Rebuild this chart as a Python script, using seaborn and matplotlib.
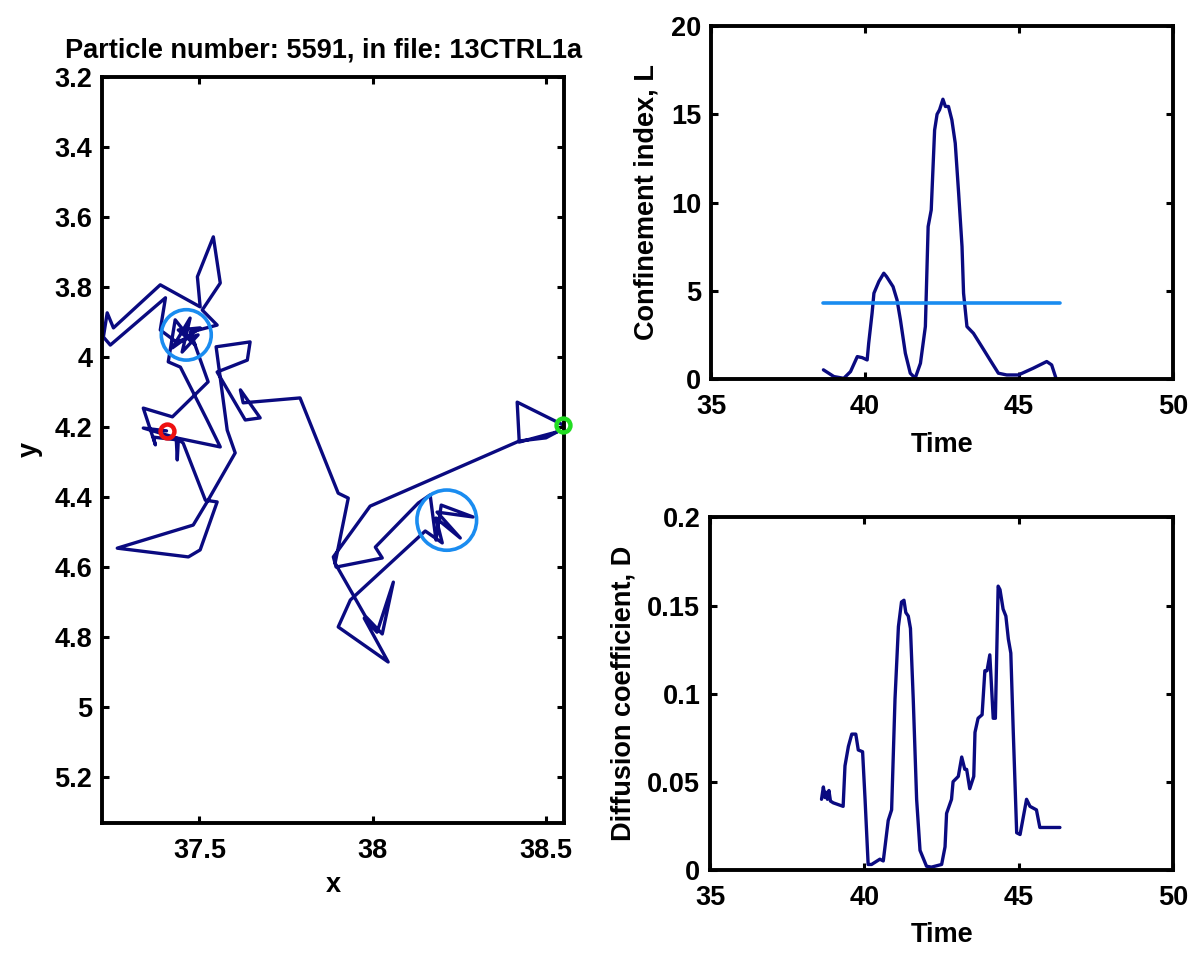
import numpy as np
import seaborn as sns
import matplotlib
matplotlib.use("Agg")
import matplotlib.pyplot as plt
from matplotlib.patches import Circle
from matplotlib.ticker import FuncFormatter

# Particle trajectory, green end first, red end last
traj_x = [38.548, 38.416, 38.422, 38.531, 38.499, 38.422, 37.992, 37.886, 37.894, 38.027,
          38.007, 38.131, 38.165, 38.182, 38.197, 38.289, 38.185, 38.252, 38.182, 38.200,
          38.151, 37.935, 37.900, 38.044, 37.975, 38.012, 38.059, 38.027, 37.978, 37.891,
          37.929, 37.900, 37.790, 37.626, 37.618, 37.675, 37.632, 37.551, 37.638, 37.646,
          37.548, 37.580, 37.603, 37.522, 37.482, 37.263, 37.468, 37.502, 37.551, 37.517,
          37.453, 37.433, 37.560, 37.522, 37.445, 37.410, 37.430, 37.488, 37.439, 37.502,
          37.422, 37.473, 37.450, 37.496, 37.433, 37.387, 37.402, 37.243, 37.223, 37.234,
          37.252, 37.387, 37.502, 37.494, 37.540, 37.560, 37.508, 37.551, 37.474, 37.525,
          37.422, 37.338, 37.373, 37.367, 37.439, 37.436, 37.433, 37.338, 37.405]
traj_y = [4.194, 4.129, 4.243, 4.214, 4.231, 4.240, 4.426, 4.571, 4.600, 4.574,
          4.543, 4.417, 4.394, 4.523, 4.423, 4.457, 4.443, 4.517, 4.460, 4.531,
          4.497, 4.694, 4.771, 4.871, 4.746, 4.786, 4.643, 4.791, 4.740, 4.589,
          4.403, 4.389, 4.117, 4.131, 4.094, 4.174, 4.180, 4.043, 4.009, 3.957,
          3.971, 4.209, 4.274, 4.414, 4.480, 4.546, 4.571, 4.551, 4.414, 4.409,
          4.246, 4.231, 4.257, 4.180, 4.029, 4.014, 3.894, 3.966, 3.923, 3.917,
          3.974, 3.889, 3.986, 3.937, 3.957, 3.923, 3.831, 3.966, 3.943, 3.874,
          3.917, 3.794, 3.857, 3.771, 3.657, 3.789, 3.866, 3.909, 3.929, 4.071,
          4.171, 4.146, 4.251, 4.229, 4.237, 4.294, 4.231, 4.203, 4.211]

# Confined zones (centre and radius)
zone_x = [37.462, 38.213]
zone_y = [3.937, 4.466]
zone_r = [0.072, 0.086]

# Confinement index vs time
conf_t = [38.65, 38.99, 39.31, 39.53, 39.75, 39.91, 40.07, 40.12, 40.23, 40.29,
          40.45, 40.61, 40.70, 40.77, 40.91, 41.04, 41.15, 41.31, 41.47, 41.63,
          41.80, 41.96, 42.05, 42.15, 42.26, 42.34, 42.42, 42.53, 42.61, 42.71,
          42.82, 42.93, 43.04, 43.15, 43.20, 43.31, 43.52, 43.79, 44.06, 44.33,
          44.60, 44.98, 45.46, 45.90, 46.06, 46.20]
conf_L = [0.53, 0.15, 0.05, 0.43, 1.28, 1.22, 1.09, 2.04, 3.74, 4.87,
          5.53, 6.00, 5.81, 5.62, 5.24, 4.49, 3.36, 1.47, 0.34, 0.06,
          0.90, 2.98, 8.64, 9.58, 14.1, 15.0, 15.25, 15.85, 15.44, 15.44,
          14.68, 13.36, 10.53, 7.51, 4.87, 2.98, 2.60, 1.85, 1.09, 0.34,
          0.24, 0.24, 0.62, 1.00, 0.81, 0.06]
thresh_t = [38.65, 46.33]
thresh_L = [4.30, 4.30]

# Diffusion coefficient vs time
diff_t = [38.61, 38.67, 38.72, 38.75, 38.80, 38.85, 38.90, 38.99, 39.31, 39.37,
          39.48, 39.59, 39.72, 39.80, 39.94, 40.02, 40.12, 40.23, 40.50, 40.61,
          40.77, 40.88, 40.99, 41.10, 41.20, 41.28, 41.34, 41.42, 41.49, 41.58,
          41.69, 41.80, 42.01, 42.17, 42.50, 42.61, 42.66, 42.82, 42.87, 43.04,
          43.15, 43.25, 43.31, 43.41, 43.54, 43.58, 43.68, 43.81, 43.90, 43.97,
          44.06, 44.17, 44.24, 44.33, 44.39, 44.49, 44.58, 44.66, 44.74, 44.82,
          44.93, 45.04, 45.25, 45.36, 45.57, 45.68, 46.33]
diff_D = [0.040, 0.047, 0.041, 0.044, 0.040, 0.045, 0.039, 0.038, 0.036, 0.059,
          0.070, 0.077, 0.077, 0.068, 0.067, 0.040, 0.003, 0.003, 0.006, 0.005,
          0.028, 0.034, 0.097, 0.138, 0.152, 0.153, 0.146, 0.144, 0.137, 0.097,
          0.040, 0.011, 0.002, 0.0015, 0.003, 0.013, 0.032, 0.040, 0.050, 0.053,
          0.064, 0.057, 0.057, 0.046, 0.053, 0.078, 0.086, 0.088, 0.113, 0.113,
          0.122, 0.086, 0.086, 0.161, 0.159, 0.148, 0.144, 0.131, 0.123, 0.078,
          0.021, 0.020, 0.040, 0.036, 0.034, 0.024, 0.024]

navy = "#0a0a80"
light_blue = "#1a8cf0"
fs = 19.5  # font size used for every text

sns.set_style("white")
plt.rcParams['font.family'] = ['Liberation Sans', 'DejaVu Sans']
plt.rcParams['font.weight'] = 'bold'
plt.rcParams['axes.labelweight'] = 'bold'
plt.rcParams['axes.titleweight'] = 'bold'
plt.rcParams['text.color'] = 'black'
plt.rcParams['axes.labelcolor'] = 'black'
plt.rcParams['xtick.color'] = 'black'
plt.rcParams['ytick.color'] = 'black'

fig = plt.figure(figsize=(12, 9.6), dpi=100)
ax_traj = fig.add_axes([0.085, 0.143, 0.385, 0.777])
ax_conf = fig.add_axes([0.5925, 0.605, 0.385, 0.368])
ax_diff = fig.add_axes([0.5917, 0.094, 0.386, 0.367])

fmt = FuncFormatter(lambda v, p: f"{v:g}")


def style_axes(ax):
    # MATLAB-like box with ticks on all sides
    for s in ax.spines.values():
        s.set_linewidth(2.8)
        s.set_color('black')
    ax.tick_params(direction='in', length=5, width=2.2, labelsize=fs, pad=7,
                   top=True, right=True, bottom=True, left=True)
    ax.tick_params(axis='x', pad=11)
    for lab in ax.get_xticklabels() + ax.get_yticklabels():
        lab.set_fontweight('bold')


# trajectory panel
sns.lineplot(x=traj_x, y=traj_y, sort=False, estimator=None, color=navy,
             linewidth=2.4, ax=ax_traj)
for cx, cy, r in zip(zone_x, zone_y, zone_r):
    ax_traj.add_patch(Circle((cx, cy), r, fill=False, edgecolor=light_blue, linewidth=2.6, zorder=3))
ax_traj.plot(traj_x[0], traj_y[0], 'o', ms=10, mfc='none', mec='#22dd22', mew=3.2, zorder=4, clip_on=False)
ax_traj.plot(traj_x[-1], traj_y[-1], 'o', ms=10, mfc='none', mec='#ee1111', mew=3.2, zorder=4)
ax_traj.set_xlim(37.219, 38.551)
ax_traj.set_ylim(5.33, 3.2)
ax_traj.set_xticks([37.5, 38, 38.5])
ax_traj.set_yticks(np.arange(3.2, 5.21, 0.2))
ax_traj.xaxis.set_major_formatter(fmt)
ax_traj.yaxis.set_major_formatter(fmt)
ax_traj.set_xlabel("x", fontsize=fs, fontweight='bold', labelpad=6)
ax_traj.set_ylabel("y", fontsize=fs, fontweight='bold', labelpad=8)
ax_traj.set_title("Particle number: 5591, in file: 13CTRL1a", fontsize=fs, fontweight='bold',
                  pad=14, x=0.48)
style_axes(ax_traj)

# confinement index panel
sns.lineplot(x=conf_t, y=conf_L, estimator=None, color=navy, linewidth=2.4, ax=ax_conf)
sns.lineplot(x=thresh_t, y=thresh_L, estimator=None, color=light_blue, linewidth=2.6, ax=ax_conf)
ax_conf.set_xlim(35, 50)
ax_conf.set_ylim(0, 20)
ax_conf.set_xticks([35, 40, 45, 50])
ax_conf.set_yticks([0, 5, 10, 15, 20])
ax_conf.set_xlabel("Time", fontsize=fs, fontweight='bold', labelpad=8)
ax_conf.set_ylabel("Confinement index, L", fontsize=fs, fontweight='bold', labelpad=8)
style_axes(ax_conf)

# diffusion coefficient panel
sns.lineplot(x=diff_t, y=diff_D, estimator=None, color=navy, linewidth=2.4, ax=ax_diff)
ax_diff.set_xlim(35, 50)
ax_diff.set_ylim(0, 0.2)
ax_diff.set_xticks([35, 40, 45, 50])
ax_diff.set_yticks([0, 0.05, 0.1, 0.15, 0.2])
ax_diff.yaxis.set_major_formatter(fmt)
ax_diff.set_xlabel("Time", fontsize=fs, fontweight='bold', labelpad=8)
ax_diff.set_ylabel("Diffusion coefficient, D", fontsize=fs, fontweight='bold', labelpad=8)
style_axes(ax_diff)

fig.savefig("out.png", dpi=100)
